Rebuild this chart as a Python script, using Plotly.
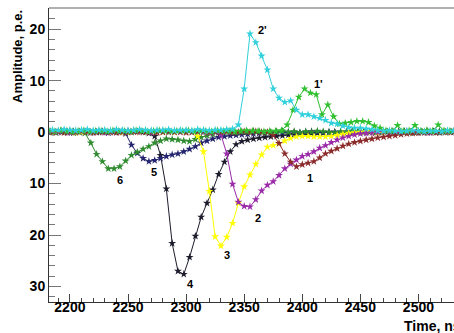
import plotly.graph_objects as go

# ---------------- data (time in ns, amplitude in p.e.) ----------------
STEP_NS = 5

# series 1 (maroon)
s1_t0 = 2185
s1_vals = [0.0, 0.1, -0.1, 0.1, 0.0, 0.2, 0.1, -0.1, 0.0, 0.1, 0.0, -0.1, 0.1, 0.0, 0.1, 0.2,
           0.0, 0.1, -0.1, 0.0, 0.1, 0.0, 0.1, -0.1, 0.0, 0.1, 0.2, 0.0, 0.1, 0.0, 0.1, -0.1,
           0.0, 0.1, 0.0, 0.1, 0.0, 0.0, -0.6, -2.2, -4.2, -5.8, -6.7, -6.3, -6.0, -5.7, -5.0,
           -4.2, -3.7, -3.2, -2.7, -2.3, -2.0, -1.75, -1.5, -1.3, -1.1, -0.95, -0.8, -0.65,
           -0.45, -0.3, -0.2, -0.15, -0.1, 0.0, -0.1, 0.0, 0.1, 0.0, 0.0]

# series 1' (green, positive)
s1p_t0 = 2182
s1p_vals = [0.2, 0.1, 0.3, 0.2, 0.1, 0.2, 0.3, 0.1, 0.2, 0.2, 0.1, 0.3, 0.2, 0.2, 0.1, 0.3,
            0.2, 0.1, 0.2, 0.3, 0.2, 0.1, 0.2, 0.2, 0.3, 0.1, 0.2, 0.2, 0.1, 0.3, 0.2, 0.2,
            0.1, 0.2, 0.3, 0.2, 0.2, 0.1, 0.2, 0.2, 0.3, 1.4, 4.3, 6.8, 8.4, 7.6, 7.3, 3.4, 5.3,
            3.0, 1.6, 1.75, 1.9, 2.1, 2.1, 1.9, 1.2, 0.8, 0.3, 0.2, 1.3, 0.2, 0.3, 1.3, 0.2,
            0.3, 0.2, 1.4, 0.3, 0.2, 0.3]

# series 2 (purple)
s2_t0 = 2185
s2_vals = [0.1, 0.0, 0.1, -0.1, 0.0, 0.2, 0.1, 0.0, 0.1, -0.1, 0.0, 0.1, 0.0, 0.2, 0.1, 0.0,
           0.1, -0.1, 0.0, 0.1, 0.0, 0.1, 0.0, 0.1, 0.0, 0.1, 0.0, -0.1, 0.0, -0.5, -4.2, -10.1,
           -13.6, -14.4, -14.5, -13.1, -11.4, -10.3, -9.6, -8.4, -7.1, -6.2, -5.4, -4.7, -4.3,
           -3.8, -3.1, -2.6, -2.0, -1.5, -1.1, -0.8, -0.5, -0.3, -0.2, -0.1, 0.0, 0.1, 0.0,
           -0.1, 0.0, 0.1, 0.0, 0.1, 0.0, -0.1, 0.0, 0.1, 0.0, 0.1, 0.0]

# series 2' (cyan, positive)
s2p_t0 = 2185
s2p_vals = [0.4, 0.3, 0.5, 0.4, 0.3, 0.4, 0.5, 0.3, 0.4, 0.4, 0.3, 0.5, 0.4, 0.3, 0.4, 0.5,
            0.4, 0.3, 0.4, 0.4, 0.5, 0.3, 0.4, 0.4, 0.3, 0.5, 0.4, 0.3, 0.4, 0.4, 0.5, 0.6,
            1.4, 8.4, 19.1, 17.4, 14.8, 12.1, 8.4, 6.6, 5.8, 6.1, 4.3, 3.4, 3.4, 3.0, 2.7, 2.3,
            1.75, 1.6, 1.2, 0.9, 0.8, 0.8, 0.65, 0.5, 0.3, 0.2, 0.3, 0.2, 0.1, 0.2, 0.3, 0.2,
            0.1, 0.2, 0.2, 0.1, 0.3, 0.2, 0.2]

# series 3 (yellow)
s3_t0 = 2185
s3_vals = [0.0, 0.1, 0.0, 0.1, -0.1, 0.0, 0.1, 0.0, 0.2, 0.1, 0.0, 0.1, -0.1, 0.0, 0.1, 0.0,
           0.1, 0.0, 0.1, 0.0, 0.1, 0.0, 0.1, 0.1, 0.1, -0.8, -3.8, -11.5, -20.3, -22.1,
           -20.4, -17.7, -13.8, -10.6, -8.3, -6.2, -4.4, -2.9, -2.6, -2.2, -1.7, -1.2, -0.9,
           -0.8, -0.8, -0.9, -0.9, -0.9, -0.8, -0.6, -0.4, -0.2, -0.1, 0.0, 0.1, 0.0, -0.1,
           0.0, 0.1, 0.0, 0.1, 0.0, -0.1, 0.0, 0.1, 0.0, 0.0, 0.1, 0.0, 0.1, 0.0]

# series 4 (black)
s4_t0 = 2183
s4_vals = [0.0, -0.1, 0.1, 0.0, -0.1, 0.0, 0.1, -0.1, 0.0, 0.0, -0.1, 0.1, 0.0, -0.1, 0.0,
           0.1, 0.0, -0.2, -0.8, -4.5, -11.0, -21.6, -27.0, -27.6, -24.3, -20.2, -16.5, -13.8,
           -11.2, -8.2, -5.8, -3.8, -2.4, -1.8, -1.5, -1.3, -1.15, -1.0, -0.9, -0.8, -0.7,
           -0.55, -0.45, -0.35, -0.3, -0.25, -0.2, -0.15, -0.1, 0.0, -0.1, 0.0, -0.1, 0.0,
           0.1, 0.0, -0.1, 0.0, 0.0, -0.1, 0.0, 0.1, 0.0, -0.1, 0.0, 0.0, 0.1, -0.1, 0.0,
           0.0, -0.1]

# series 5 (navy)
s5_t0 = 2183
s5_vals = [-0.1, 0.0, 0.0, -0.1, 0.1, 0.0, -0.1, 0.0, 0.0, 0.1, -0.1, 0.0, 0.0, -0.3, -2.5,
           -4.1, -5.1, -5.7, -5.5, -5.1, -4.7, -4.4, -4.2, -3.8, -3.3, -2.8, -2.1, -1.7, -1.3,
           -1.0, -0.85, -0.7, -0.6, -0.5, -0.4, -0.3, -0.2, -0.2, -0.1, 0.0, -0.1, 0.0, 0.0,
           -0.1, 0.0, 0.1, 0.0, -0.1, 0.0, 0.0, -0.1, 0.0, 0.1, 0.0, -0.1, 0.0, 0.0, -0.1,
           0.0, 0.0, 0.1, 0.0, -0.1, 0.0, 0.0, -0.1, 0.0, 0.1, 0.0, 0.0, -0.1]

# series 6 (dark green)
s6_t0 = 2183
s6_vals = [0.1, 0.0, 0.2, 0.1, -0.1, 0.1, -0.2, -2.1, -4.3, -5.7, -7.1, -7.1, -6.7, -5.6,
           -4.5, -3.9, -3.3, -2.8, -2.1, -1.7, -1.3, -1.4, -1.5, -1.7, -1.8, -1.4, -1.0, -0.7,
           -0.4, -0.1, 0.0, 0.1, -0.1, 0.1, 0.0, 0.2, 0.1, -0.1, 0.0, 0.1, 0.2, 0.0, 0.1,
           -0.1, 0.1, 0.0, 0.2, 0.1, 0.0, -0.1, 0.1, 0.0, 0.2, 0.1, 0.0, 0.1, -0.1, 0.0, 0.1,
           0.2, 0.0, 0.1, -0.1, 0.0, 0.1, 0.2, 0.0, 0.1, 0.0, 0.1, 0.0]

y_tickvals = [-30, -20, -10, 0, 10, 20]
y_ticktext = ["30", "20", "10", "0", "10", "20"]

pulse_labels = ["2'", "1'", "6", "5", "4", "3", "2", "1"]
label_time = [2366, 2414, 2243.5, 2272.5, 2303.5, 2335, 2361.5, 2407]
label_amp = [19.9, 9.4, -9.4, -7.8, -29.6, -23.9, -16.7, -8.9]

# ---------------- styling ----------------
series = [
    ("4", s4_t0, s4_vals, "#1c1c2c"),
    ("5", s5_t0, s5_vals, "#23236e"),
    ("6", s6_t0, s6_vals, "#2e8b2e"),
    ("3", s3_t0, s3_vals, "#ffff00"),
    ("2", s2_t0, s2_vals, "#9a2aa8"),
    ("1", s1_t0, s1_vals, "#8b2a2a"),
    ("1'", s1p_t0, s1p_vals, "#30c030"),
    ("2'", s2p_t0, s2p_vals, "#30d0dc"),
]

FONT = "Liberation Sans, Arial, Helvetica, sans-serif"

fig = go.Figure()
for name, t0, vals, col in series:
    times = [t0 + STEP_NS * i for i in range(len(vals))]
    fig.add_trace(go.Scatter(
        x=times, y=vals, mode="lines+markers", name=name,
        line=dict(color=col, width=1),
        marker=dict(symbol="star", size=6, color=col, line=dict(width=0)),
        showlegend=False, cliponaxis=True, hoverinfo="skip",
    ))

annotations = []
for txt, tx, ay in zip(pulse_labels, label_time, label_amp):
    annotations.append(dict(x=tx, y=ay, xref="x", yref="y", text=txt, showarrow=False,
                            font=dict(family=FONT, size=11, color="black", weight="bold")))

W, H = 454, 333
ML, MT, MB, MR = 49, 8, 31, 0
pw = W - ML - MR
ph = H - MT - MB

annotations.append(dict(
    x=(17.5 - ML) / pw, y=1.0, xref="paper", yref="paper", text="Amplitude, p.e.",
    textangle=-90, showarrow=False, xanchor="center", yanchor="top",
    font=dict(family=FONT, size=13, color="black", weight="bold")))
annotations.append(dict(
    x=(402 - ML) / pw, y=-(326 - (H - MB)) / ph,
    xref="paper", yref="paper", text="Time, ns", showarrow=False,
    xanchor="left", yanchor="middle",
    font=dict(family=FONT, size=14, color="black", weight="bold")))

fig.update_layout(
    width=W, height=H,
    margin=dict(l=ML, r=MR, t=MT, b=MB, pad=0),
    paper_bgcolor="white", plot_bgcolor="white",
    annotations=annotations,
    shapes=[dict(type="line", xref="paper", yref="paper", x0=0, x1=1, y0=1, y1=1,
                 line=dict(color="#b0b0b0", width=2))],
)
fig.update_xaxes(
    range=[2182, 2530.6], tick0=2200, dtick=50, ticks="inside", ticklen=8,
    tickcolor="#444", tickwidth=1, showgrid=False, zeroline=False,
    showline=True, linecolor="#333", linewidth=1, ticklabelstandoff=-8,
    tickfont=dict(family=FONT, size=14, color="black", weight="bold"),
    minor=dict(dtick=10, tick0=2200, ticks="inside", ticklen=4, tickcolor="#444"),
)
fig.update_yaxes(
    range=[-33.0, 24.1], tickmode="array", tickvals=y_tickvals, ticktext=y_ticktext,
    ticks="inside", ticklen=12, tickcolor="#777", tickwidth=1,
    showgrid=False, zeroline=False, showline=True, linecolor="#333", linewidth=1,
    tickfont=dict(family=FONT, size=14, color="black", weight="bold"),
    minor=dict(dtick=2, tick0=0, ticks="inside", ticklen=6, tickcolor="#777"),
)

fig.write_html("out.html", config={"displayModeBar": False, "staticPlot": True},
               post_script="document.body.style.margin='0';document.body.style.overflow='hidden';")
